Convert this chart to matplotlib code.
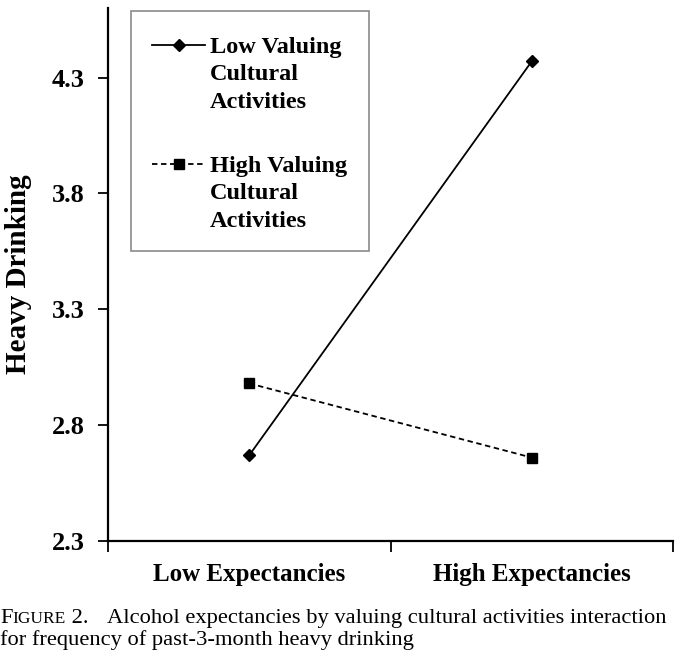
import matplotlib
matplotlib.use("Agg")
import matplotlib.pyplot as plt
from matplotlib.lines import Line2D
from matplotlib.patches import Rectangle

# data
categories = ["Low Expectancies", "High Expectancies"]
low_valuing = [2.67, 4.37]
high_valuing = [2.98, 2.66]
y_ticks = [2.3, 2.8, 3.3, 3.8, 4.3]
series_labels = ["Low Valuing\nCultural\nActivities", "High Valuing\nCultural\nActivities"]

plt.rcParams["font.family"] = ["Liberation Serif", "DejaVu Serif"]

W, H = 680, 651
fig = plt.figure(figsize=(W / 100, H / 100), dpi=100)
ax = fig.add_axes([108 / W, 110 / H, 565 / W, 533 / H])


def px(x, y):
    # pixel coords from top-left -> figure fraction
    return x / W, 1 - y / H


xpos = [0.5, 1.5]
styles = [dict(ls="-", marker="D", ms=6), dict(ls=(0, (3, 2)), marker="s", ms=7.5)]
for vals, st in zip([low_valuing, high_valuing], styles):
    ax.plot(xpos, vals, color="black", lw=1.3, **st)

ax.set_xlim(0, 2)
ax.set_ylim(2.3, 4.6)
ax.set_xticks([0, 1, 2])
ax.set_xticklabels([])
ax.set_xticks(xpos, minor=True)
ax.set_xticklabels(categories, minor=True, fontsize=18, fontweight="bold")
ax.tick_params(axis="x", which="minor", length=0, pad=16)
ax.tick_params(axis="x", which="major", length=8, width=1.3, direction="out")
ax.set_yticks(y_ticks)
ax.set_yticklabels([f"{v:.1f}" for v in y_ticks], fontsize=19, fontweight="bold")
ax.tick_params(axis="y", length=7, width=1.3, direction="out", pad=10)

for s in ["top", "right"]:
    ax.spines[s].set_visible(False)
for s in ["left", "bottom"]:
    ax.spines[s].set_linewidth(1.6)

ax.set_ylabel("Heavy Drinking", fontsize=21, fontweight="bold", labelpad=14)

# hand-drawn legend box (handle sits on the first text line)
x0, y0 = px(131, 251)
x1, y1 = px(369, 11)
fig.add_artist(Rectangle((x0, y0), x1 - x0, y1 - y0, transform=fig.transFigure,
                         fill=False, edgecolor="#8a8a8a", lw=1.2))
for i, (lab, st) in enumerate(zip(series_labels, styles)):
    base = 53 + i * 119
    hx0, hy = px(152, base - 8)
    hx1, _ = px(205, base - 8)
    fig.add_artist(Line2D([hx0, (hx0 + hx1) / 2, hx1], [hy, hy, hy], color="black", lw=1.3,
                          ls=st["ls"], marker=st["marker"], ms=st["ms"], markevery=[1],
                          transform=fig.transFigure))
    tx, ty = px(210, base)
    fig.text(tx, ty, lab.split("\n")[0], fontsize=17.5, fontweight="bold", va="baseline")
    for j, line in enumerate(lab.split("\n")[1:], start=1):
        tx, ty = px(210, base + j * 27.5)
        fig.text(tx, ty, line, fontsize=17.5, fontweight="bold", va="baseline")

# caption with small-caps "Figure"
fig.canvas.draw()
r = fig.canvas.get_renderer()
cy1, cy2 = 28 / H, 6 / H
t = fig.text(0, cy1, "F", fontsize=16.2, va="baseline")
x = t.get_window_extent(r).width / W
t = fig.text(x, cy1, "IGURE", fontsize=12.5, va="baseline")
x += t.get_window_extent(r).width / W
fig.text(x, cy1, " 2.", fontsize=16.2, va="baseline")
fig.text(107 / W, cy1, "Alcohol expectancies by valuing cultural activities interaction",
         fontsize=16.2, va="baseline")
fig.text(0, cy2, "for frequency of past-3-month heavy drinking", fontsize=16.2, va="baseline")

fig.savefig("out.png", dpi=100)
